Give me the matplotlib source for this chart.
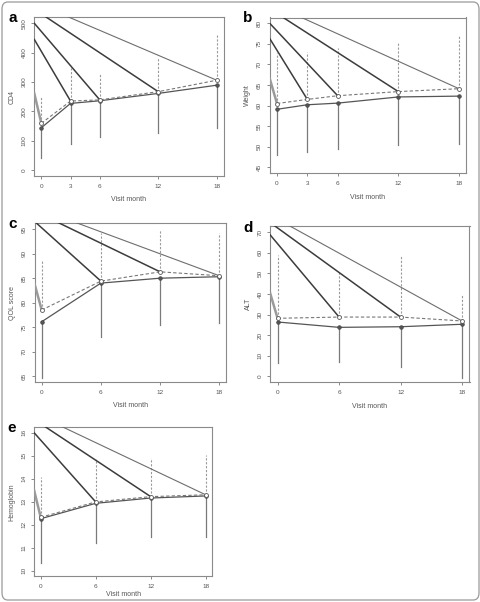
import matplotlib
matplotlib.use("Agg")
import matplotlib.pyplot as plt
from matplotlib.patches import FancyBboxPatch

plt.rcParams['font.family'] = ['Liberation Sans', 'DejaVu Sans']

W, H = 481, 602

# ---- data ----
# panel a: CD4
months_a = [0, 3, 6, 12, 18]
cd4_solid = [144, 227, 236, 261, 289]
cd4_dash = [159, 235, 239, 267, 306]
cd4_lo = [40, 87, 114, 125, 142]
cd4_hi = [252, 349, 330, 381, 460]
cd4_start = [261, 445, 500, 548, 571]

# panel b: Weight
months_b = [0, 3, 6, 12, 18]
wt_solid = [59.1, 60.2, 60.6, 62.1, 62.3]
wt_dash = [60.5, 61.5, 62.4, 63.4, 64.1]
wt_lo = [48.0, 48.8, 49.4, 50.4, 50.7]
wt_hi = [72.7, 72.9, 73.9, 75.5, 76.9]
wt_start = [66.6, 76.3, 80.0, 83.5, 84.9]

# panel c: QOL score
months_c = [0, 6, 12, 18]
qol_solid = [76.1, 84.0, 85.0, 85.3]
qol_dash = [78.5, 84.4, 86.3, 85.5]
qol_lo = [64.5, 72.9, 75.4, 75.9]
qol_hi = [88.7, 94.2, 94.9, 94.2]
qol_start = [83.8, 96.6, 98.7, 99.5]

# panel d: ALT
months_d = [0, 6, 12, 18]
alt_solid = [26.4, 23.8, 24.1, 25.3]
alt_dash = [28.2, 28.8, 28.8, 26.9]
alt_lo = [6.5, 7.1, 4.4, -1.0]
alt_hi = [59.0, 50.9, 58.5, 39.9]
alt_start = [40.3, 68.7, 74.7, 78.3]

# panel e: Hemoglobin
months_e = [0, 6, 12, 18]
hb_solid = [12.26, 12.93, 13.16, 13.25]
hb_dash = [12.32, 12.99, 13.22, 13.30]
hb_lo = [10.35, 11.22, 11.45, 11.48]
hb_hi = [14.06, 14.84, 14.88, 15.03]
hb_start = [13.5, 16.0, 16.58, 16.84]

panels = [
    # letter, ylabel, months, solid, dash, lo, hi, start, yticks, box(l, r, t, b) px
    ("a", "CD4", months_a, cd4_solid, cd4_dash, cd4_lo, cd4_hi, cd4_start,
     list(range(0, 501, 100)), (34.3, 223.7, 17.4, 175.9)),
    ("b", "Weight", months_b, wt_solid, wt_dash, wt_lo, wt_hi, wt_start,
     list(range(45, 81, 5)), (269.7, 466.3, 17.5, 173.1)),
    ("c", "QOL score", months_c, qol_solid, qol_dash, qol_lo, qol_hi, qol_start,
     list(range(65, 96, 5)), (34.6, 226.4, 223.4, 381.9)),
    ("d", "ALT", months_d, alt_solid, alt_dash, alt_lo, alt_hi, alt_start,
     list(range(0, 71, 10)), (270.2, 469.5, 226.5, 382.1)),
    ("e", "Hemoglobin", months_e, hb_solid, hb_dash, hb_lo, hb_hi, hb_start,
     list(range(10, 17)), (34.1, 212.3, 427.2, 576.2)),
]

fig = plt.figure(figsize=(W / 100, H / 100), dpi=100)

# rounded frame round the whole figure
frame = FancyBboxPatch((2 / W, 2 / H), 1 - 4 / W, 1 - 4 / H,
                       boxstyle="round,pad=0,rounding_size=0.012",
                       transform=fig.transFigure, fill=False,
                       edgecolor='#9a9a9a', linewidth=0.9)
fig.patches.append(frame)

XMIN, XMAX = -0.72, 18.72
line_cols = ['#9a9a9a', '#3c3c3c', '#6e6e6e']
line_lws = [1.8, 1.1, 0.8]

for letter, ylab, months, solid, dash, lo, hi, start, yticks, box in panels:
    l, r, t, b = box
    ax = fig.add_axes([l / W, 1 - b / H, (r - l) / W, (b - t) / H])
    yr = yticks[-1] - yticks[0]
    ax.set_xlim(XMIN, XMAX)
    ax.set_ylim(yticks[0] - 0.04 * yr, yticks[-1] + 0.04 * yr)

    # error bars
    for m, s, d, lo_v, hi_v in zip(months, solid, dash, lo, hi):
        ax.plot([m, m], [lo_v, s], color='#7a7a7a', lw=0.9, zorder=2)
        ax.plot([m, m], [d, hi_v], color='#9a9a9a', lw=0.8,
                linestyle=(0, (2, 1.5)), zorder=2)

    # diagonal pattern lines
    n = len(months)
    cols = [line_cols[0]] + [line_cols[1]] * (n - 2) + [line_cols[2]]
    lws = [line_lws[0]] + [line_lws[1]] * (n - 2) + [line_lws[2]]
    for m, d, st, c, lw in zip(months, dash, start, cols, lws):
        ax.plot([XMIN, m], [st, d], color=c, lw=lw, zorder=3)

    # mean lines
    ax.plot(months, solid, color='#555555', lw=0.9, marker='o', ms=2.6,
            mfc='#555555', mec='#444444', mew=0.5, zorder=4)
    ax.plot(months, dash, color='#777777', lw=0.8, linestyle=(0, (3, 2)),
            marker='o', ms=2.8, mfc='white', mec='#555555', mew=0.6, zorder=5)

    ax.set_xticks(months)
    ax.set_xticklabels([str(m) for m in months])
    ax.set_yticks(yticks)
    ax.set_yticklabels([str(v) for v in yticks], rotation=90, va='center')
    ax.tick_params(axis='both', direction='out', length=2.5, width=0.6,
                   colors='#777777', labelcolor='#555555', labelsize=4.6, pad=3)
    for sp in ax.spines.values():
        sp.set_color('#8a8a8a')
        sp.set_linewidth(0.8)

    cx = (l + r) / 2
    xlab_y = min(b + 24, H - 8)
    fig.text(cx / W, 1 - xlab_y / H, "Visit month", ha='center', va='center',
             fontsize=5, color='#555555')
    fig.text((l - 22) / W, 1 - ((t + b) / 2) / H, ylab, ha='center', va='center',
             rotation=90, fontsize=5, color='#555555')
    fig.text((l - 22) / W, 1 - (t + 1) / H, letter, ha='center', va='center',
             fontsize=11, fontweight='bold', color='black')

fig.savefig("out.png", dpi=100)
